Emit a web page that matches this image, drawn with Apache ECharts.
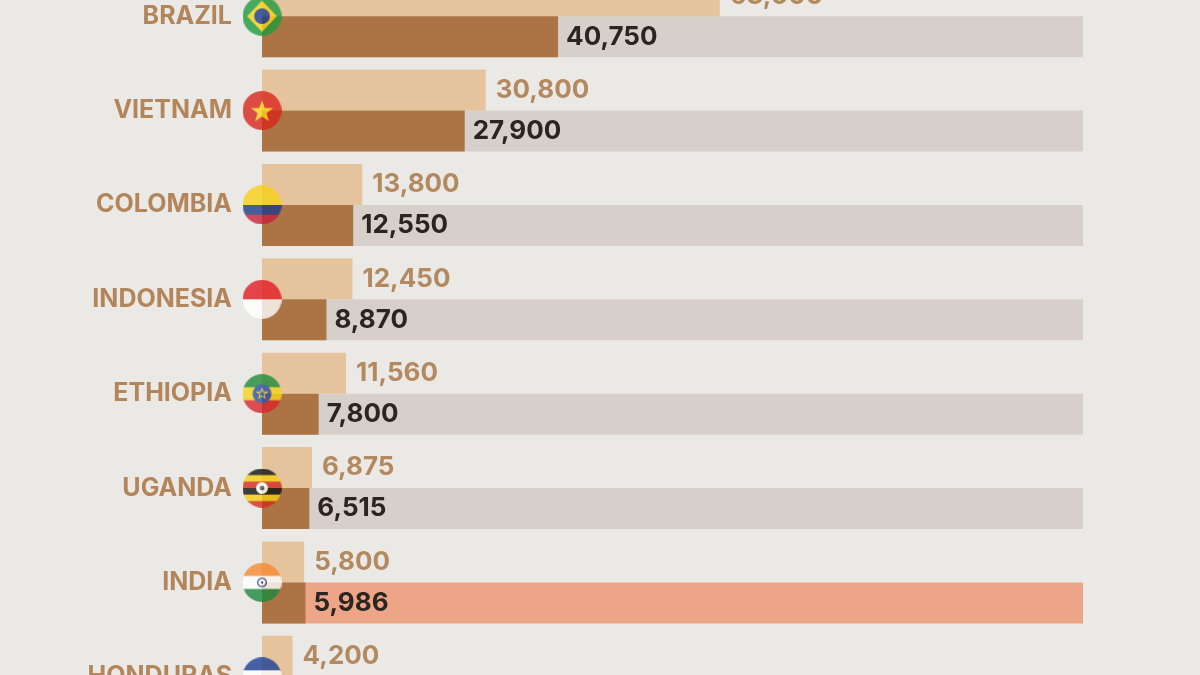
<!DOCTYPE html>
<html>
<head>
<meta charset="utf-8">
<script src="https://cdn.jsdelivr.net/npm/echarts@6/dist/echarts.min.js"></script>
<style>
  html, body { margin: 0; padding: 0; background: #ebe9e5; }
  #chart { width: 1200px; height: 675px; }
</style>
</head>
<body>
<div id="chart"></div>
<script>
// data (thousand 60kg bags)
const countries = ['BRAZIL', 'VIETNAM', 'COLOMBIA', 'INDONESIA', 'ETHIOPIA', 'UGANDA', 'INDIA', 'HONDURAS'];
const upperVals = [63000, 30800, 13800, 12450, 11560, 6875, 5800, 4200];
const lowerVals = [40750, 27900, 12550, 8870, 7800, 6515, 5986, null];
const highlighted = ['INDIA', 'HONDURAS'];
const axisMax = 113000;

// little round flags, painted on a canvas
function flag(draw) {
  const s = 80;
  const c = document.createElement('canvas');
  c.width = s; c.height = s;
  const g = c.getContext('2d');
  g.save();
  g.beginPath();
  g.arc(s / 2, s / 2, s / 2, 0, Math.PI * 2);
  g.clip();
  draw(g, s);
  g.restore();
  return 'image://' + c.toDataURL();
}
function stripes(g, s, colors) {
  const h = s / colors.length;
  colors.forEach((col, i) => { g.fillStyle = col; g.fillRect(0, i * h, s, h + 1); });
}
function star(g, cx, cy, r, fill) {
  g.beginPath();
  for (let i = 0; i < 10; i++) {
    const a = -Math.PI / 2 + i * Math.PI / 5;
    const rr = i % 2 ? r * 0.4 : r;
    g.lineTo(cx + rr * Math.cos(a), cy + rr * Math.sin(a));
  }
  g.closePath();
  g.fillStyle = fill;
  g.fill();
}
function disc(g, cx, cy, r, fill) {
  g.beginPath();
  g.arc(cx, cy, r, 0, Math.PI * 2);
  g.fillStyle = fill;
  g.fill();
}

const flags = {
  BRAZIL: flag((g, s) => {
    g.fillStyle = '#1f9a3e'; g.fillRect(0, 0, s, s);
    g.beginPath();
    g.moveTo(s * 0.5, s * 0.1); g.lineTo(s * 0.88, s * 0.5);
    g.lineTo(s * 0.5, s * 0.9); g.lineTo(s * 0.12, s * 0.5);
    g.closePath(); g.fillStyle = '#f5d41a'; g.fill();
    disc(g, s / 2, s / 2, s * 0.2, '#1c3c8c');
  }),
  VIETNAM: flag((g, s) => {
    g.fillStyle = '#d8261c'; g.fillRect(0, 0, s, s);
    star(g, s / 2, s * 0.53, s * 0.3, '#ffd21a');
  }),
  COLOMBIA: flag((g, s) => {
    g.fillStyle = '#f8d01a'; g.fillRect(0, 0, s, s * 0.5);
    g.fillStyle = '#1e3a8a'; g.fillRect(0, s * 0.5, s, s * 0.25);
    g.fillStyle = '#c8203a'; g.fillRect(0, s * 0.75, s, s * 0.25);
  }),
  INDONESIA: flag((g, s) => stripes(g, s, ['#e01b22', '#ffffff'])),
  ETHIOPIA: flag((g, s) => {
    stripes(g, s, ['#1f8a3a', '#f4d51c', '#d7262e']);
    disc(g, s / 2, s / 2, s * 0.24, '#2a52a8');
    star(g, s / 2, s / 2, s * 0.17, '#f4d51c');
    star(g, s / 2, s / 2, s * 0.1, '#2a52a8');
  }),
  UGANDA: flag((g, s) => {
    stripes(g, s, ['#111111', '#f6cf12', '#d52a1e', '#111111', '#f6cf12', '#d52a1e']);
    disc(g, s / 2, s / 2, s * 0.15, '#ffffff');
    disc(g, s / 2, s / 2, s * 0.06, '#555555');
  }),
  INDIA: flag((g, s) => {
    stripes(g, s, ['#f58a32', '#ffffff', '#1b8a3c']);
    g.beginPath();
    g.arc(s / 2, s / 2, s * 0.11, 0, Math.PI * 2);
    g.strokeStyle = '#1a2a80'; g.lineWidth = 2.5; g.stroke();
    disc(g, s / 2, s / 2, s * 0.03, '#1a2a80');
  }),
  HONDURAS: flag((g, s) => {
    stripes(g, s, ['#1b3f95', '#ffffff', '#1b3f95']);
    star(g, s / 2, s / 2, s * 0.06, '#1b3f95');
  })
};

const light = '#e5c49d';
const dark = '#ac7444';
const grey = '#d7d0ca';
const salmon = '#eca587';
const fontFamily = 'Inter, "Noto Sans", sans-serif';

const chart = echarts.init(document.getElementById('chart'));
chart.setOption({
  backgroundColor: '#ebe9e5',
  animation: false,
  grid: {
    left: 262, right: 117, top: -31, bottom: -49,
    containLabel: false, outerBoundsMode: 'none'
  },
  xAxis: { type: 'value', min: 0, max: axisMax, show: false },
  yAxis: [
    {
      type: 'category', data: countries, inverse: true,
      axisLine: { show: false }, axisTick: { show: false },
      axisLabel: {
        margin: 30, fontSize: 25, fontWeight: 700, color: '#b3855a', fontFamily
      }
    },
    { type: 'category', data: countries, inverse: true, show: false }
  ],
  series: [
    {
      name: 'upper', type: 'bar', yAxisIndex: 0, barWidth: 41, barGap: '0%', z: 2,
      data: upperVals, itemStyle: { color: light },
      label: {
        show: true, position: 'right', distance: 10, fontSize: 26, fontWeight: 700,
        color: '#b38a5f', fontFamily, formatter: p => p.value.toLocaleString('en-US')
      }
    },
    {
      name: 'lower', type: 'bar', yAxisIndex: 0, barWidth: 41, barGap: '0%', z: 2,
      data: lowerVals, itemStyle: { color: dark },
      label: {
        show: true, position: 'right', distance: 8, fontSize: 26, fontWeight: 700,
        color: '#2b2521', fontFamily, formatter: p => p.value.toLocaleString('en-US')
      }
    },
    {
      name: 'slot', type: 'bar', yAxisIndex: 1, barWidth: 41, barGap: '0%', z: 1,
      data: countries.map(() => '-'), silent: true
    },
    {
      name: 'backdrop', type: 'bar', yAxisIndex: 1, barWidth: 41, barGap: '0%', z: 1,
      silent: true,
      data: countries.map(c => ({
        value: axisMax,
        itemStyle: { color: highlighted.includes(c) ? salmon : grey }
      }))
    },
    {
      name: 'flags', type: 'scatter', yAxisIndex: 0, z: 5, silent: true,
      data: countries.map(c => ({ value: [0, c], symbol: flags[c] })),
      symbolSize: 39
    }
  ]
});
</script>
</body>
</html>
